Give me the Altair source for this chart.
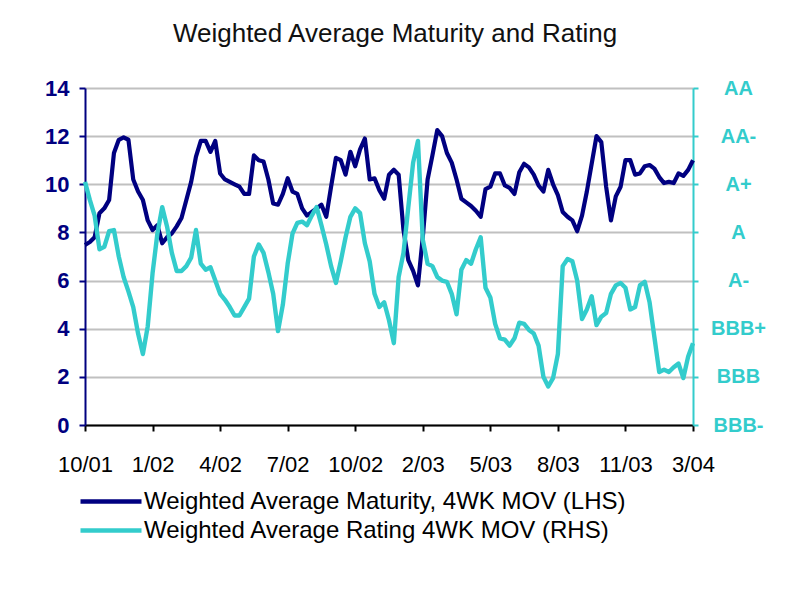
import altair as alt
import pandas as pd

FONT = "Liberation Sans"

tick_labels = ["10/01", "1/02", "4/02", "7/02", "10/02", "2/03", "5/03", "8/03", "11/03", "3/04"]
rating_labels = ["BBB-", "BBB", "BBB+", "A-", "A", "A+", "AA-", "AA"]

SER_M = "Weighted Average Maturity, 4WK MOV (LHS)"
SER_R = "Weighted Average Rating 4WK MOV (RHS)"

weeks = list(range(127))

maturity = [
    7.48, 7.6, 7.8, 8.8, 9.0, 9.35, 11.3, 11.85, 11.95, 11.85,
    10.2, 9.7, 9.35, 8.5, 8.1, 8.3, 7.55, 7.8, 7.96, 8.25,
    8.6, 9.35, 10.1, 11.15, 11.8, 11.8, 11.35, 11.8, 10.45, 10.2,
    10.1, 10.0, 9.9, 9.6, 9.6, 11.2, 11.0, 10.95, 10.2, 9.2,
    9.15, 9.6, 10.25, 9.7, 9.6, 9.0, 8.7, 8.85, 9.0, 9.15,
    8.65, 9.9, 11.1, 11.0, 10.4, 11.35, 10.75, 11.45, 11.9, 10.2,
    10.25, 9.75, 9.4, 10.4, 10.6, 10.4, 8.1, 6.85, 6.4, 5.8,
    7.8, 10.2, 11.2, 12.25, 12.0, 11.3, 10.9, 10.2, 9.4, 9.25,
    9.1, 8.9, 8.65, 9.8, 9.9, 10.45, 10.45, 9.95, 9.85, 9.6,
    10.5, 10.85, 10.7, 10.4, 9.95, 9.7, 10.6, 10.0, 9.55, 8.85,
    8.65, 8.5, 8.05, 8.7, 9.7, 10.85, 12.0, 11.75, 9.9, 8.5,
    9.5, 9.9, 11.0, 11.0, 10.4, 10.45, 10.75, 10.8, 10.65, 10.3,
    10.05, 10.1, 10.05, 10.45, 10.35, 10.6, 11.0,
]

rating = [
    10.1, 9.35, 8.7, 7.3, 7.4, 8.05, 8.1, 7.0, 6.15, 5.55,
    4.9, 3.8, 2.95, 4.1, 6.3, 7.95, 9.05, 8.25, 7.15, 6.4,
    6.4, 6.6, 6.95, 8.1, 6.7, 6.45, 6.55, 6.0, 5.45, 5.2,
    4.9, 4.55, 4.55, 4.9, 5.25, 7.0, 7.5, 7.15, 6.35, 5.45,
    3.9, 5.0, 6.7, 7.95, 8.4, 8.45, 8.3, 8.7, 9.05, 8.3,
    7.5, 6.6, 5.9, 6.8, 7.8, 8.65, 9.0, 8.8, 7.55, 6.8,
    5.45, 4.9, 5.1, 4.35, 3.4, 6.15, 7.15, 9.05, 10.9, 11.8,
    7.7, 6.7, 6.6, 6.15, 6.0, 5.95, 5.45, 4.6, 6.45, 6.85,
    6.7, 7.3, 7.8, 5.7, 5.3, 4.2, 3.6, 3.55, 3.3, 3.6,
    4.25, 4.2, 3.95, 3.8, 3.3, 2.0, 1.6, 1.95, 2.95, 6.6,
    6.9, 6.8, 6.0, 4.4, 4.8, 5.35, 4.15, 4.5, 4.65, 5.45,
    5.8, 5.9, 5.7, 4.8, 4.9, 5.8, 5.95, 5.1, 3.65, 2.2,
    2.3, 2.2, 2.4, 2.55, 1.95, 2.85, 3.4,
]

df = pd.DataFrame({
    "week": weeks + weeks,
    "value": maturity + rating,
    "series": [SER_M] * len(weeks) + [SER_R] * len(weeks),
})

x_expr = "[" + ",".join("'%s'" % s for s in tick_labels) + "][round(datum.value/14)]"
r_expr = "[" + ",".join("'%s'" % s for s in rating_labels) + "][round(datum.value/2)]"

NAVY = "#000080"
CYAN = "#33CCCC"

color = alt.Color(
    "series:N",
    scale=alt.Scale(domain=[SER_M, SER_R], range=[NAVY, CYAN]),
    legend=alt.Legend(
        title=None, orient="none", legendX=-7, legendY=402, direction="vertical",
        symbolType="stroke", symbolSize=3721, symbolStrokeWidth=4.5,
        clipHeight=23, rowPadding=4, labelFontSize=24, labelFont=FONT,
        labelColor="black", labelLimit=1000, labelOffset=0, padding=0,
    ),
)

x = alt.X(
    "week:Q",
    scale=alt.Scale(domain=[0, 126], nice=False, zero=False),
    axis=alt.Axis(
        values=list(range(0, 127, 14)), labelExpr=x_expr, title=None, grid=False,
        domainColor="black", domainWidth=2, tickColor="black", tickWidth=2, tickSize=6,
        labelFontSize=22, labelFont=FONT, labelColor="black", labelPadding=23,
        labelFlush=False, labelOverlap=False,
    ),
)

left = alt.Chart(df).transform_filter(alt.datum.series == SER_M).mark_line(
    strokeWidth=4.2, strokeJoin="round"
).encode(
    x=x,
    y=alt.Y(
        "value:Q",
        scale=alt.Scale(domain=[0, 14], nice=False, zero=True),
        axis=alt.Axis(
            values=list(range(0, 15, 2)), title=None, orient="left", grid=True,
            gridColor="#c0c0c0", gridWidth=2, domainColor=NAVY, domainWidth=2,
            tickColor=NAVY, tickWidth=2, tickSize=6, labelFontSize=22, labelFont=FONT,
            labelFontWeight="bold", labelColor=NAVY, labelPadding=10, labelFlush=False,
        ),
    ),
    color=color,
)

right = alt.Chart(df).transform_filter(alt.datum.series == SER_R).mark_line(
    strokeWidth=4.4, strokeJoin="round"
).encode(
    x=x,
    y=alt.Y(
        "value:Q",
        scale=alt.Scale(domain=[0, 14], nice=False, zero=True),
        axis=alt.Axis(
            values=list(range(0, 15, 2)), title=None, orient="right", grid=False,
            labelExpr=r_expr, domainColor=CYAN, domainWidth=2, tickColor=CYAN,
            tickWidth=2, tickSize=5, labelFontSize=20, labelFont=FONT,
            labelFontWeight="bold", labelColor=CYAN, labelPadding=40,
            labelAlign="center", labelFlush=False, labelOverlap=False,
        ),
    ),
    color=color,
)

chart = alt.layer(left, right).resolve_scale(y="independent").properties(
    width=608,
    height=337,
    padding={"left": 77, "top": 80, "right": 99, "bottom": 170},
    autosize=alt.AutoSizeParams(type="none"),
    title=alt.TitleParams(
        "Weighted Average Maturity and Rating", fontSize=26, fontWeight="normal",
        font=FONT, color="#111111", anchor="middle", offset=30, dx=6,
    ),
).configure_view(stroke=None).configure(background="white")

chart.save("out.html", embed_options={"renderer": "svg", "actions": False})
